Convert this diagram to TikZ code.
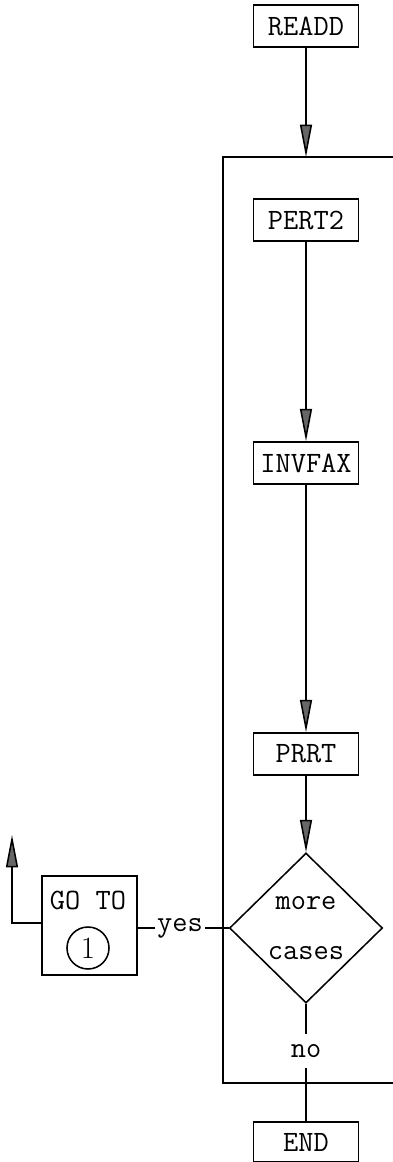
\documentclass[tikz,border=0pt]{standalone}
\usepackage{fontspec}
\usetikzlibrary{arrows.meta,shapes.geometric}

\begin{document}
\begin{tikzpicture}[x=.025cm,y=-.025cm,line width=1.1pt,
  font=\ttfamily\fontsize{21}{23}\selectfont,
  box/.style={draw,minimum width=2.62cm,minimum height=1.05cm,inner sep=0pt},
  flow/.style={-{Triangle[length=23pt,width=8.5pt,fill=black!60]}},
  plain/.style={inner sep=1pt}]
\useasboundingbox (0,0) rectangle (393,1162);
\coordinate (lt) at (223,157);
\coordinate (lb) at (223,1083);
\draw (393,157) -- (lt) -- (lb) -- (393,1083);
\node[box] (readd) at (306,26) {READD};
\node[box] (pert2) at (306,220) {PERT2};
\node[box] (invfax) at (306,463) {INVFAX};
\node[box] (prrt) at (306,754) {PRRT};
\node[draw,diamond,minimum width=3.825cm,minimum height=3.75cm,inner sep=0pt,align=center] (cases) at (306,928) {more\\[12pt]cases};
\node[plain,minimum height=.8cm] (no) at (306,1051) {no};
\node[box,minimum height=1cm] (end) at (306,1142) {END};
\node[plain] (yes) at (180,928) {yes};
\node[draw,minimum width=2.375cm,minimum height=2.475cm,inner sep=0pt] (goto) at (89.5,925.5) {};
\node (gototext) at (88,900) {GO TO};
\node[draw,circle,minimum size=1.05cm,inner sep=0pt,font=\rmfamily\fontsize{22}{24}\selectfont] (one) at (88,948) {1};
\coordinate (ret) at (12,835);
\draw[flow] (readd) -- (readd |- lt);
\foreach \a/\b in {pert2/invfax,invfax/prrt,prrt/cases}
  \draw[flow] (\a) -- (\b);
\draw (cases) -- (no) -- (end);
\draw (cases.west) -- (yes) -- (goto.east |- yes);
\draw[flow] (goto.west |- 0,923) -| (ret);
\end{tikzpicture}
\end{document}
